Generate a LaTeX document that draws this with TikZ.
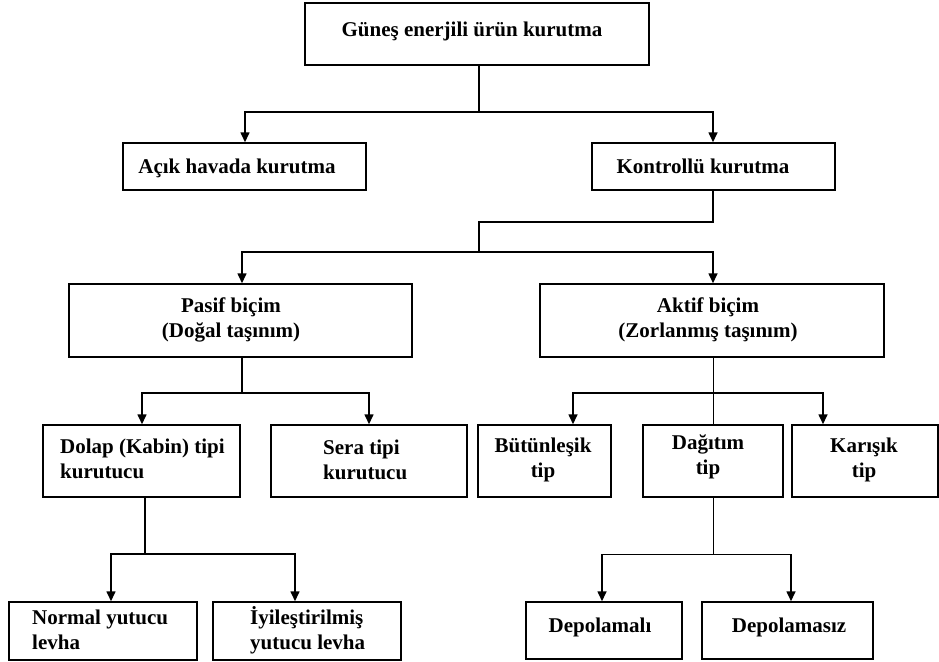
\documentclass[tikz,border=0pt]{standalone}
\usepackage{fontspec}
\setmainfont{Liberation Serif}
\usetikzlibrary{arrows.meta}
\newcommand{\twoline}[3]{\begin{tabular}[t]{@{}#1@{}}#2\\#3\end{tabular}}
\begin{document}
\begin{tikzpicture}[x=1pt,y=-1pt,
  box/.style={draw=black,line width=1.5pt,inner sep=0pt,rectangle},
  lbl/.style={inner sep=0pt,font=\fontsize{21}{25}\selectfont\bfseries},
  ln/.style={line width=1.6pt},
  thinln/.style={line width=0.9pt},
  arr/.style={line width=1.6pt,-{Triangle[length=10pt,width=9pt]}},
]
\useasboundingbox (0,0) rectangle (939,661);
% boxes
\node[box,minimum width=344pt,minimum height=62pt] (top) at (477,34) {};
\node[box,minimum width=243pt,minimum height=47pt] (acik) at (244.5,166.5) {};
\node[box,minimum width=243pt,minimum height=47pt] (kontrol) at (713.5,166.5) {};
\node[box,minimum width=343pt,minimum height=73pt] (pasif) at (240.5,320.5) {};
\node[box,minimum width=344pt,minimum height=73pt] (aktif) at (712,320.5) {};
\node[box,minimum width=197pt,minimum height=72pt] (dolap) at (141.5,461) {};
\node[box,minimum width=196pt,minimum height=72pt] (sera) at (369,461) {};
\node[box,minimum width=133pt,minimum height=72pt] (butun) at (544.5,461) {};
\node[box,minimum width=140pt,minimum height=72pt] (dagitim) at (713,461) {};
\node[box,minimum width=146pt,minimum height=72pt] (karisik) at (865,461) {};
\node[box,minimum width=188pt,minimum height=58pt] (normal) at (103,631) {};
\node[box,minimum width=188pt,minimum height=58pt] (iyile) at (307,631) {};
\node[box,minimum width=156pt,minimum height=57pt] (depo1) at (604,630.5) {};
\node[box,minimum width=171pt,minimum height=57pt] (depo2) at (787.5,630.5) {};
% labels
\node[lbl,anchor=base] (ttop) at (472,37) {Güneş enerjili ürün kurutma};
\node[lbl,anchor=base] (tacik) at (237,173) {Açık havada kurutma};
\node[lbl,anchor=base] (tkontrol) at (703,173) {Kontrollü kurutma};
\node[lbl,anchor=base] (tpasif) at (231,312) {\twoline{c}{Pasif biçim}{(Doğal taşınım)}};
\node[lbl,anchor=base] (taktif) at (708,312) {\twoline{c}{Aktif biçim}{(Zorlanmış taşınım)}};
\node[lbl,anchor=base west] (tdolap) at (60,453) {\twoline{l}{Dolap (Kabin) tipi}{kurutucu}};
\node[lbl,anchor=base west] (tsera) at (323,454) {\twoline{l}{Sera tipi}{kurutucu}};
\node[lbl,anchor=base] (tbutun) at (543,452) {\twoline{c}{Bütünleşik}{tip}};
\node[lbl,anchor=base] (tdagitim) at (708,449) {\twoline{c}{Dağıtım}{tip}};
\node[lbl,anchor=base] (tkarisik) at (864,452) {\twoline{c}{Karışık}{tip}};
\node[lbl,anchor=base west] (tnormal) at (32,624) {\twoline{l}{Normal yutucu}{levha}};
\node[lbl,anchor=base west] (tiyile) at (250,624) {\twoline{l}{İyileştirilmiş}{yutucu levha}};
\node[lbl,anchor=base] (tdepo1) at (600,632) {Depolamalı};
\node[lbl,anchor=base] (tdepo2) at (789,632) {Depolamasız};
% junction coordinates
\coordinate (j1) at (479,112);
\coordinate (j1l) at (245,112);
\coordinate (j1r) at (713,112);
\coordinate (k1) at (713,222);
\coordinate (k2) at (479,222);
\coordinate (j2) at (479,252);
\coordinate (j2l) at (242,252);
\coordinate (j2r) at (713,252);
\coordinate (j3) at (242,393);
\coordinate (j3l) at (142,393);
\coordinate (j3r) at (369,393);
\coordinate (j4) at (713,393);
\coordinate (j4l) at (573,393);
\coordinate (j4r) at (823,393);
\coordinate (j5) at (145,554);
\coordinate (j5l) at (111,554);
\coordinate (j5r) at (295,554);
\coordinate (j6) at (713,554);
\coordinate (j6l) at (602,554);
\coordinate (j6r) at (791,554);
% connectors
\draw[ln] (j1 |- top.south) -- (j1);
\draw[arr] (j1) -- (j1l) -- (j1l |- acik.north);
\draw[arr] (j1) -- (j1r) -- (j1r |- kontrol.north);
\draw[ln] (k1 |- kontrol.south) -- (k1) -- (k2) -- (j2);
\draw[arr] (j2) -- (j2l) -- (j2l |- pasif.north);
\draw[arr] (j2) -- (j2r) -- (j2r |- aktif.north);
\draw[ln] (j3 |- pasif.south) -- (j3);
\draw[arr] (j3) -- (j3l) -- (j3l |- dolap.north);
\draw[arr] (j3) -- (j3r) -- (j3r |- sera.north);
\draw[thinln] (j4 |- aktif.south) -- (j4 |- dagitim.north);
\draw[arr] (j4) -- (j4l) -- (j4l |- butun.north);
\draw[arr] (j4) -- (j4r) -- (j4r |- karisik.north);
\draw[ln] (j5 |- dolap.south) -- (j5);
\draw[arr] (j5) -- (j5l) -- (j5l |- normal.north);
\draw[arr] (j5) -- (j5r) -- (j5r |- iyile.north);
\draw[thinln] (j6 |- dagitim.south) -- (j6);
\draw[thinln] (j6l) -- (j6r);
\draw[arr] (j6l) -- (j6l |- depo1.north);
\draw[arr] (j6r) -- (j6r |- depo2.north);
\end{tikzpicture}
\end{document}
